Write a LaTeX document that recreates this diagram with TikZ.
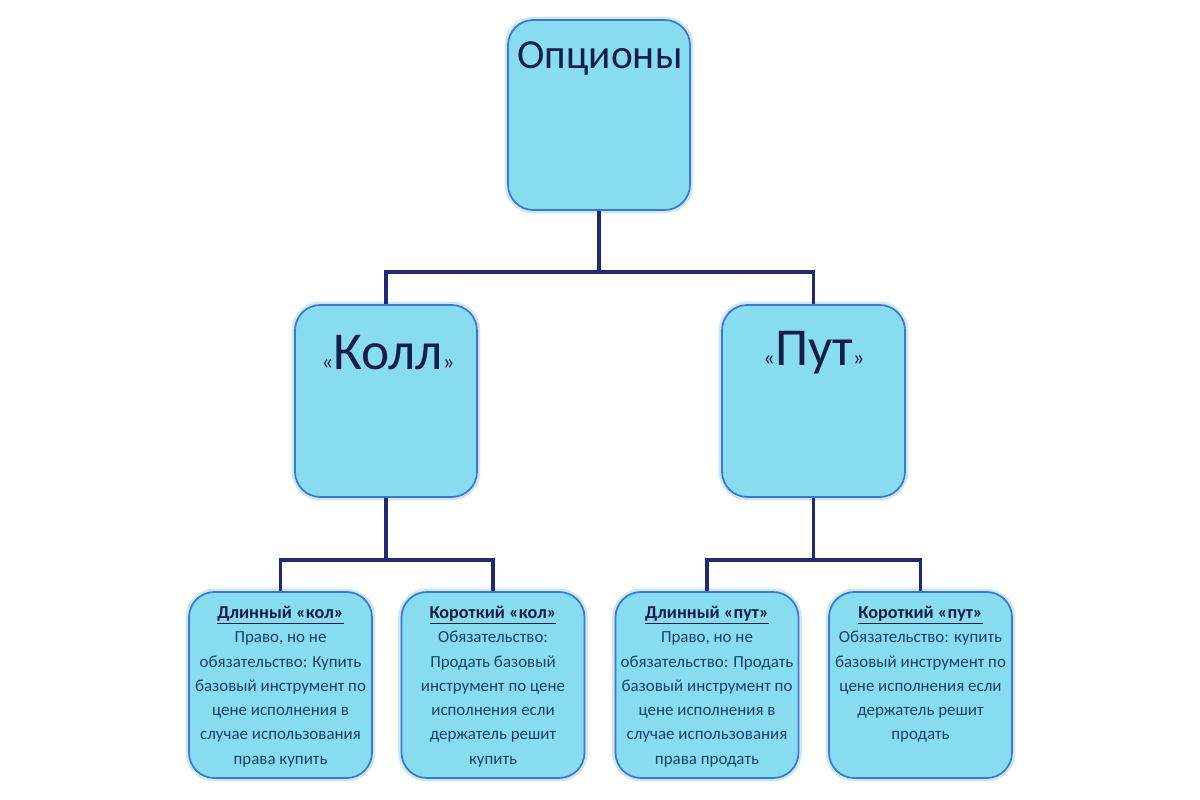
\documentclass[tikz,border=0pt]{standalone}
\usepackage{fontspec}
\setmainfont{Carlito}
\definecolor{boxfill}{RGB}{135,220,240}
\definecolor{boxline}{RGB}{60,120,210}
\definecolor{glow}{RGB}{150,200,240}
\definecolor{wire}{RGB}{28,42,120}
\definecolor{titletext}{RGB}{20,30,70}
\definecolor{bodytext}{RGB}{22,65,110}
\tikzset{
  box/.style={draw=boxline, line width=1.3pt, fill=boxfill, rounded corners=19pt,
    preaction={draw=glow, line width=5pt, opacity=0.45, rounded corners=19pt}},
  bigbox/.style={box, minimum width=136.5pt, minimum height=144pt, inner sep=0pt},
  smallbox/.style={box, minimum width=137.25pt, minimum height=139.5pt, inner sep=0pt},
  wireline/.style={draw=wire, line width=2.3pt},
  bodytxt/.style={align=center, text=bodytext, font=\fontsize{12.7}{18.2}\selectfont, anchor=north, inner sep=0pt}
}
\newcommand\ttl[1]{{\color{titletext}\fontsize{13.6}{18.2}\selectfont\bfseries\underline{#1}}}
\begin{document}
\begin{tikzpicture}[x=0.75pt,y=-0.75pt]
\useasboundingbox (0,0) rectangle (1200,800);
\fill[white] (0,0) rectangle (1200,800);
% junctions
\coordinate (j1) at (599,272);
\coordinate (j2) at (386,560);
\coordinate (j3) at (813.5,560);
% boxes
\node[bigbox, minimum height=142.5pt] (top) at (599,115) {};
\node[bigbox] (kol) at (386,401) {};
\node[bigbox, minimum width=137.25pt] (put) at (813.5,401) {};
\node[smallbox] (b1) at (280.5,685) {};
\node[smallbox] (b2) at (493,685) {};
\node[smallbox] (b3) at (707,685) {};
\node[smallbox] (b4) at (920.5,685) {};
% connectors
\draw[wireline] (top.south) -- (j1);
\draw[wireline] (kol.north) |- (j1) -| (put.north);
\draw[wireline] (kol.south) -- (j2);
\draw[wireline] (b1.north) |- (j2) -| (b2.north);
\draw[wireline] (put.south) -- (j3);
\draw[wireline] (b3.north) |- (j3) -| (b4.north);
% texts
\node[text=titletext, font=\fontsize{31}{36}\selectfont, inner sep=0pt] (ttop) at (600,58) {Опционы};
\node[text=titletext, inner sep=0pt] (tkol) at (388,353) {{\fontsize{17}{18}\selectfont«}{\fontsize{40}{44}\selectfont Колл}{\fontsize{17}{18}\selectfont»}};
\node[text=titletext, inner sep=0pt] (tput) at (814,353) {{\fontsize{17}{18}\selectfont«}{\fontsize{40}{44}\selectfont Пут}{\fontsize{17}{18}\selectfont»}};
\node[bodytxt] (t1) at (280.5,606) {\ttl{Длинный «кол»}\\Право, но не\\обязательство: Купить\\базовый инструмент по\\цене исполнения в\\случае использования\\права купить};
\node[bodytxt] (t2) at (493,606) {\ttl{Короткий «кол»}\\Обязательство:\\Продать базовый\\инструмент по цене\\исполнения если\\держатель решит\\купить};
\node[bodytxt] (t3) at (707,606) {\ttl{Длинный «пут»}\\Право, но не\\обязательство: Продать\\базовый инструмент по\\цене исполнения в\\случае использования\\права продать};
\node[bodytxt] (t4) at (920.5,606) {\ttl{Короткий «пут»}\\Обязательство: купить\\базовый инструмент по\\цене исполнения если\\держатель решит\\продать};
\end{tikzpicture}
\end{document}
